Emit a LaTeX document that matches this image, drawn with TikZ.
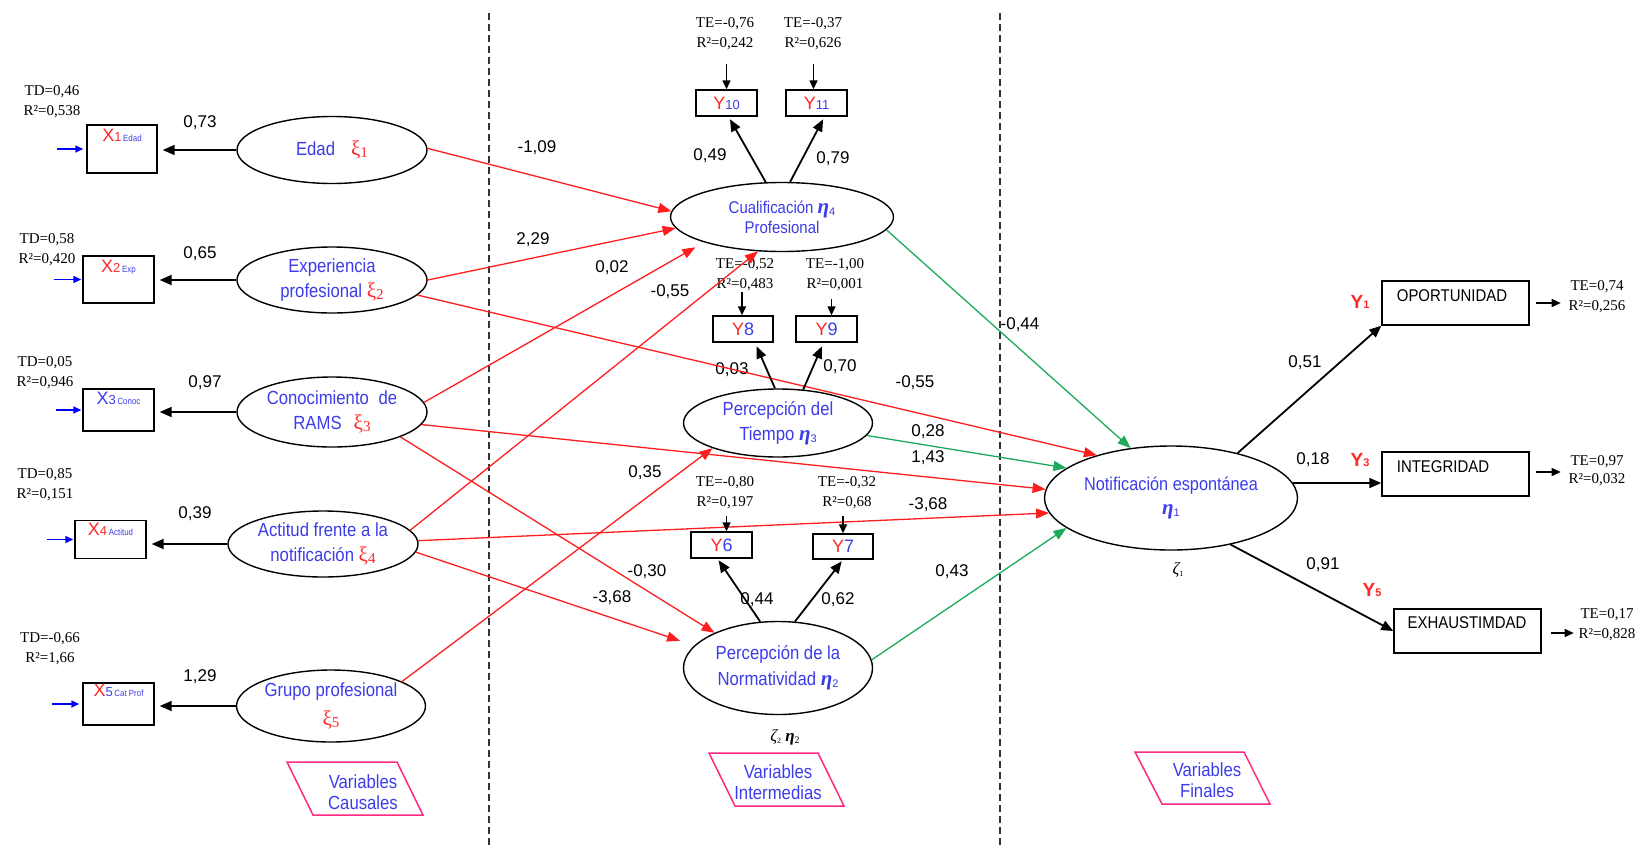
\documentclass[tikz,border=0pt]{standalone}
\usepackage{fontspec}
\setmainfont{Liberation Sans}
\newfontfamily\nar[FakeStretch=0.88]{Liberation Sans}
\newfontfamily\ser{Liberation Serif}
\usetikzlibrary{arrows.meta,shapes.geometric,calc}
\definecolor{tblue}{RGB}{60,60,235}
\definecolor{xred}{RGB}{255,40,40}
\definecolor{lred}{RGB}{255,30,30}
\definecolor{lgreen}{RGB}{30,170,90}
\definecolor{lpink}{RGB}{255,40,130}
\newcommand\fs[2]{\fontsize{#1}{#2}\selectfont}
\newcommand\xisym[1]{{\color{xred}\ser\fs{21}{21}ξ\raisebox{-2pt}{\fs{15}{15}#1}}}
\newcommand\etasym[1]{{\ser\bfseries\itshape\fs{21}{21}η\raisebox{-2pt}{\normalfont\fs{11}{11}#1}}}
\newcommand\xlab[4]{{\color{#1}\fs{18}{18}X}{\color{#2}\fs{13}{13}#3}\,{\color{tblue}\nar\fs{9}{9}#4}}
\newcommand\ylab[2]{{\color{xred}\fs{18}{18}Y}{\color{tblue}\fs{#2}{#2}#1}}
\newcommand\yred[1]{{\color{xred}\bfseries\fs{19}{19}Y\fs{11}{11}#1}}
\tikzset{
  ell/.style={draw, ellipse, line width=1.4pt, inner sep=0pt},
  etx/.style={font=\nar\fs{19}{25}, text=tblue, align=center, inner sep=0pt},
  bx/.style={draw, rectangle, line width=1.4pt, inner sep=0pt},
  num/.style={font=\fs{17}{17}, inner sep=1pt},
  te/.style={font=\ser\fs{15}{20}, align=center, inner sep=0pt},
  redarr/.style={draw=lred, line width=1.3pt, -{Triangle[length=13pt,width=10pt]}},
  grnarr/.style={draw=lgreen, line width=1.3pt, -{Triangle[length=13pt,width=10pt]}},
  blkarr/.style={draw=black, line width=1.8pt, -{Triangle[length=12pt,width=10pt]}},
  bluarr/.style={draw=blue, line width=1.4pt, -{Triangle[length=8pt,width=7pt]}},
  smarr/.style={draw=black, line width=1.4pt, -{Triangle[length=9pt,width=8pt]}},
  dashline/.style={draw=black!80, line width=1.1pt, dash pattern=on 7pt off 4pt},
  vpar/.style={draw=lpink, line width=1.5pt},
  vtx/.style={font=\nar\fs{19}{21}, text=tblue, align=center, inner sep=0pt},
  boxtx/.style={font=\nar\fs{17}{17}, inner sep=0pt}
}
\begin{document}
\begin{tikzpicture}[x=1pt,y=-1pt]
\useasboundingbox (0,0) rectangle (1641,847);
\fill[white] (0,0) rectangle (1641,847);
% dashed separators
\coordinate (d1t) at (489,13); \coordinate (d1b) at (489,847);
\coordinate (d2t) at (1000,13); \coordinate (d2b) at (1000,847);
\draw[dashline] (d1t) -- (d1b);
\draw[dashline] (d2t) -- (d2b);

% causal latent variables
\node[ell, minimum width=190pt, minimum height=67pt, label={[etx]center:{Edad\hspace{16pt}\xisym{1}}}] (edad) at (332,150) {};
\node[ell, minimum width=190pt, minimum height=66pt, label={[etx]center:{Experiencia\\profesional \xisym{2}}}] (exp) at (332,280) {};
\node[ell, minimum width=190pt, minimum height=70pt, label={[etx]center:{Conocimiento\hspace{5pt} de\\RAMS\hspace{12pt}\xisym{3}}}] (conoc) at (332,412) {};
\node[ell, minimum width=190pt, minimum height=66pt, label={[etx]center:{Actitud frente a la\\notificación \xisym{4}}}] (acti) at (323,544) {};
\node[ell, minimum width=189pt, minimum height=72pt, label={[etx, font=\nar\fs{19}{29}]center:{Grupo profesional\\\xisym{5}}}] (grupo) at (331,706) {};

% intermediate latent variables
\node[ell, minimum width=223pt, minimum height=69pt, label={[etx, font=\nar\fs{17}{20}]center:{Cualificación {\fs{18}{18}\etasym{4}}\\Profesional}}] (cual) at (782,217) {};
\node[ell, minimum width=189pt, minimum height=68pt, label={[etx]center:{Percepción del\\Tiempo \etasym{3}}}] (tiem) at (778,423) {};
\node[ell, minimum width=189pt, minimum height=93pt, label={[etx, font=\nar\fs{19}{26}]center:{Percepción de la\\Normatividad \etasym{2}}}] (norm) at (778,668) {};

% final latent
\node[ell, minimum width=253pt, minimum height=104pt, label={[etx, font=\nar\fs{18.5}{24}]center:{Notificación espontánea\\\etasym{1}}}] (notif) at (1171,498) {};

% X indicator boxes
\node[bx, minimum width=70pt, minimum height=48pt] (x1) at (122,149) {};
\node[bx, minimum width=71pt, minimum height=47pt] (x2) at (118.5,279.5) {};
\node[bx, minimum width=71pt, minimum height=42pt] (x3) at (118.5,410) {};
\node[bx, minimum width=71pt, minimum height=38pt] (x4) at (110.5,539.5) {};
\node[bx, minimum width=71pt, minimum height=42pt] (x5) at (118.5,704) {};
\node[anchor=north, inner sep=0pt] (x1t) at ([yshift=-5pt]x1.north) {\xlab{xred}{xred}{1}{Edad}};
\node[anchor=north, inner sep=0pt] (x2t) at ([yshift=-5pt]x2.north) {\xlab{xred}{xred}{2}{Exp}};
\node[anchor=north, inner sep=0pt] (x3t) at ([yshift=-4pt]x3.north) {\xlab{tblue}{tblue}{3}{Conoc}};
\node[anchor=north, inner sep=0pt] (x4t) at ([yshift=-3pt]x4.north) {\xlab{xred}{xred}{4}{Actitud}};
\node[anchor=north, inner sep=0pt] (x5t) at ([yshift=-2pt]x5.north) {\xlab{xred}{tblue}{5}{Cat Prof}};

% Y indicator boxes (intermediate)
\node[bx, minimum width=61pt, minimum height=26pt, label={[inner sep=0pt]center:{\ylab{10}{13}}}] (y10) at (726.5,103) {};
\node[bx, minimum width=61pt, minimum height=26pt, label={[inner sep=0pt]center:{\ylab{11}{13}}}] (y11) at (816.5,103) {};
\node[bx, minimum width=60pt, minimum height=26pt, label={[inner sep=0pt]center:{\ylab{8}{18}}}] (y8) at (743,329) {};
\node[bx, minimum width=61pt, minimum height=26pt, label={[inner sep=0pt]center:{\ylab{9}{18}}}] (y9) at (826.5,329) {};
\node[bx, minimum width=61pt, minimum height=26pt, label={[inner sep=0pt]center:{\ylab{6}{18}}}] (y6) at (721.5,545) {};
\node[bx, minimum width=60pt, minimum height=25pt, label={[inner sep=0pt]center:{\ylab{7}{18}}}] (y7) at (843,546.5) {};

% final indicator boxes
\node[bx, minimum width=147pt, minimum height=44pt] (oport) at (1455.5,303) {};
\node[bx, minimum width=147pt, minimum height=44pt] (integ) at (1455.5,474) {};
\node[bx, minimum width=147pt, minimum height=44pt] (exh) at (1467.5,631) {};
\node[boxtx] (oportt) at (1452,296) {OPORTUNIDAD};
\node[boxtx] (integt) at (1443,467) {INTEGRIDAD};
\node[boxtx] (exht) at (1467,623) {EXHAUSTIMDAD};
\node[inner sep=0pt] (y1l) at (1360,302) {\yred{1}};
\node[inner sep=0pt] (y3l) at (1360,460) {\yred{3}};
\node[inner sep=0pt] (y5l) at (1372,590) {\yred{5}};

% error / R2 labels
\node[te] (td1) at (52,102) {TD=0,46\\R²=0,538};
\node[te] (td2) at (47,250) {TD=0,58\\R²=0,420};
\node[te] (td3) at (45,373) {TD=0,05\\R²=0,946};
\node[te] (td4) at (45,485) {TD=0,85\\R²=0,151};
\node[te] (td5) at (50,649) {TD=-0,66\\R²=1,66};
\node[te] (te10) at (725,34) {TE=-0,76\\R²=0,242};
\node[te] (te11) at (813,34) {TE=-0,37\\R²=0,626};
\node[te] (te8) at (745,275) {TE=-0,52\\R²=0,483};
\node[te] (te9) at (835,275) {TE=-1,00\\R²=0,001};
\node[te] (te6) at (725,493) {TE=-0,80\\R²=0,197};
\node[te] (te7) at (847,493) {TE=-0,32\\R²=0,68};
\node[te] (te1) at (1597,297) {TE=0,74\\R²=0,256};
\node[te, font=\ser\fs{15}{18}] (te3) at (1597,471) {TE=0,97\\R²=0,032};
\node[te] (te5) at (1607,625) {TE=0,17\\R²=0,828};

% zeta labels
\node[inner sep=0pt, font=\ser\fs{17}{17}] (z1) at (1178,570) {\itshape ζ\raisebox{-2pt}{\fs{8}{8}\upshape 1}};
\node[inner sep=0pt, font=\ser\fs{17}{17}] (z2) at (785,737) {\itshape ζ\raisebox{-2pt}{\fs{8}{8}\upshape 2} {\bfseries η}\raisebox{-2pt}{\fs{10}{10}\upshape 2}};

% group labels (parallelograms)
\node[vtx] (vcaus) at (363,792) {Variables\\Causales};
\draw[vpar] (287,762) -- (397,762) -- (423,815) -- (313,815) -- cycle;
\node[vtx] (vinter) at (778,782) {Variables\\Intermedias};
\draw[vpar] (709,753) -- (818,753) -- (844,806) -- (735,806) -- cycle;
\node[vtx] (vfin) at (1207,780) {Variables\\Finales};
\draw[vpar] (1135,752) -- (1244,752) -- (1270,804) -- (1162,804) -- cycle;

% path coefficients
\node[num] (p1) at (200,123) {0,73};
\node[num] (p2) at (200,254) {0,65};
\node[num] (p3) at (205,383) {0,97};
\node[num] (p4) at (195,514) {0,39};
\node[num] (p5) at (200,677) {1,29};
\node[num] (p6) at (537,148) {-1,09};
\node[num] (p7) at (533,240) {2,29};
\node[num] (p8) at (612,268) {0,02};
\node[num] (p9) at (670,292) {-0,55};
\node[num] (p10) at (710,156) {0,49};
\node[num] (p11) at (833,159) {0,79};
\node[num] (p12) at (732,370) {0,03};
\node[num] (p13) at (840,367) {0,70};
\node[num] (p14) at (915,383) {-0,55};
\node[num] (p15) at (645,473) {0,35};
\node[num] (p16) at (928,432) {0,28};
\node[num] (p17) at (928,458) {1,43};
\node[num] (p18) at (928,505) {-3,68};
\node[num] (p19) at (647,572) {-0,30};
\node[num] (p20) at (612,598) {-3,68};
\node[num] (p21) at (757,600) {0,44};
\node[num] (p22) at (838,600) {0,62};
\node[num] (p23) at (952,572) {0,43};
\node[num] (p24) at (1020,325) {-0,44};
\node[num] (p25) at (1305,363) {0,51};
\node[num] (p26) at (1313,460) {0,18};
\node[num] (p27) at (1323,565) {0,91};

% loadings of causal variables
\draw[blkarr, shorten >=5pt] (edad.west) -- (edad.west -| x1.east);
\draw[blkarr, shorten >=5pt] (exp.west) -- (exp.west -| x2.east);
\draw[blkarr, shorten >=5pt] (conoc.west) -- (conoc.west -| x3.east);
\draw[blkarr, shorten >=5pt] (acti.west) -- (acti.west -| x4.east);
\draw[blkarr, shorten >=5pt] (grupo.west) -- (grupo.west -| x5.east);
\draw[bluarr, shorten >=3pt] ([xshift=-29pt]x1.west) -- (x1.west);
\draw[bluarr, shorten >=1pt] ([xshift=-28pt]x2.west) -- (x2.west);
\draw[bluarr, shorten >=1pt] ([xshift=-26pt]x3.west) -- (x3.west);
\draw[bluarr, shorten >=1pt] ([xshift=-27pt]x4.west) -- (x4.west);
\draw[bluarr, shorten >=3pt] ([xshift=-30pt]x5.west) -- (x5.west);

% structural paths
\draw[redarr] (edad.1) -- (cual.177);
\draw[redarr] (exp.0) -- (cual.186);
\draw[redarr] (exp.-10) -- (notif.150);
\draw[redarr, shorten >=10pt] (conoc.6) -- (cual.198);
\draw[redarr] (conoc.-8) -- (notif.176);
\draw[redarr] (conoc.-20) -- (norm.151);
\draw[redarr] (acti.9) -- (cual.235);
\draw[redarr] (acti.2) -- (notif.187);
\draw[redarr, shorten >=15pt] (acti.-5) -- (norm.165);
\draw[redarr] (grupo.19) -- (tiem.201);
\draw[grnarr] (cual.-7) -- (notif.129);
\draw[grnarr] (tiem.-8) -- (notif.164);
\draw[grnarr] (norm.5) -- (notif.196);

% loadings of intermediate variables
\draw[blkarr, shorten >=3pt] (cual.115) -- ([xshift=2pt]y10.south);
\draw[blkarr, shorten >=3pt] (cual.77) -- ([xshift=8pt]y11.south);
\draw[blkarr, shorten >=4pt] (tiem.95) -- ([xshift=12pt]y8.south);
\draw[blkarr, shorten >=4pt] (tiem.53) -- ([xshift=-3pt]y9.south);
\draw[blkarr, shorten >=2pt] (norm.111) -- ([xshift=-4pt]y6.south);
\draw[blkarr, shorten >=2pt] (norm.70) -- (y7.south);
\draw[smarr] ([yshift=25pt]y10.north) -- (y10.north);
\draw[smarr] ([xshift=-3pt,yshift=25pt]y11.north) -- ([xshift=-3pt]y11.north);
\draw[smarr] ([xshift=-1pt,yshift=23pt]y8.north) -- ([xshift=-1pt]y8.north);
\draw[smarr] ([xshift=5pt,yshift=16pt]y9.north) -- ([xshift=5pt]y9.north);
\draw[smarr] ([xshift=5pt,yshift=15pt]y6.north) -- ([xshift=5pt]y6.north);
\draw[smarr] ([yshift=17pt]y7.north) -- (y7.north);

% final indicators
\draw[blkarr] (notif.34) -- (oport.south west);
\draw[blkarr] (notif.7) -- (notif.7 -| integ.west);
\draw[blkarr] (notif.-38) -- (exh.west);
\draw[smarr] ([xshift=6pt]oport.east) -- ([xshift=31pt]oport.east);
\draw[smarr] ([xshift=6pt,yshift=2pt]integ.east) -- ([xshift=31pt,yshift=2pt]integ.east);
\draw[smarr] ([xshift=9pt,yshift=-2pt]exh.east) -- ([xshift=32pt,yshift=-2pt]exh.east);
\end{tikzpicture}
\end{document}
